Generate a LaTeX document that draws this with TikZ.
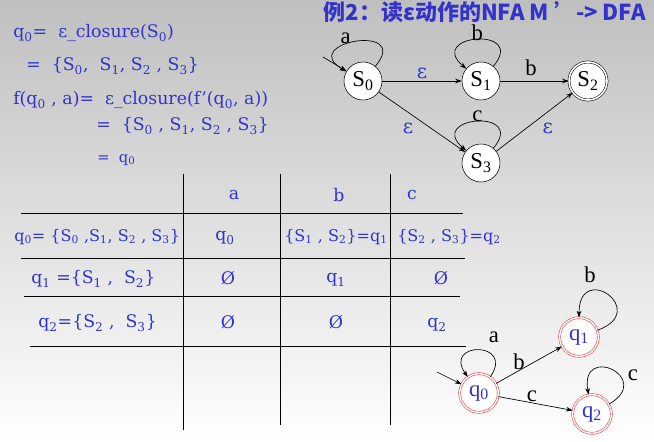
\documentclass[tikz,border=0pt]{standalone}
\usepackage{fontspec}
\setmainfont{DejaVu Serif}
\newfontfamily\statefont{Liberation Serif}
\newfontfamily\cjk{Noto Sans CJK SC}
\usetikzlibrary{arrows.meta}
\definecolor{ink}{RGB}{51,51,204}
\definecolor{ring}{RGB}{225,45,45}
\newcommand\subix[1]{\textsubscript{#1}}

\begin{document}
\begin{tikzpicture}[
	              x = 0.75pt,
	              y = 0.75pt,
	  txt/.style = {text=ink, inner sep=0pt, font=\fontsize{13}{15}\selectfont},
	  row/.style = {txt, font=\fontsize{12}{14}\selectfont},
	  nfa/.style = {circle, draw, fill=white, minimum size=28.5pt, inner sep=0pt,
	                font=\statefont\fontsize{17}{19}\selectfont},
	accept/.style = {double, double distance=1.2pt},
	  dfa/.style = {circle, draw=ring, double=white, double distance=1.1pt, fill=white,
	                minimum size=29pt, inner sep=0pt, text=ink,
	                font=\statefont\fontsize{17}{19}\selectfont},
	trans/.style = {-{Stealth[length=5pt,width=3.5pt]}, line width=0.5pt},
	  sym/.style = {inner sep=0.5pt, font=\statefont\fontsize{17}{19}\selectfont},
	  eps/.style = {inner sep=1pt, text=ink, font=\fontsize{15}{17}\selectfont}
	                ]
	% background
	\shade[top color=gray!50, bottom color=white] (0,0) rectangle (654,-442);
	\useasboundingbox (0,0) rectangle (654,-442);

	% title
	\node[text=ink, anchor=east, inner sep=0pt, font=\cjk\bfseries\fontsize{16.5}{18}\selectfont]
	    (title) at (646,-12) {例2：读ε动作的NFA M ’-> DFA};

	% closure computation
	\node[txt, anchor=west] (l1) at (13,-33) {q\subix{0}=~~ε\_closure(S\subix{0})};
	\node[txt, anchor=west] (l2) at (26,-66) {=~~\{S\subix{0},~~S\subix{1}, S\subix{2} , S\subix{3}\}};
	\node[txt, anchor=west] (l3) at (13,-100) {f(q\subix{0} , a)=~~ε\_closure(f’(q\subix{0}, a))};
	\node[txt, anchor=west] (l4) at (96,-126) {=~~\{S\subix{0} , S\subix{1}, S\subix{2} , S\subix{3}\}};
	\node[txt, anchor=west, font=\fontsize{11}{13}\selectfont] (l5) at (97,-160) {=~~q\subix{0}};

	% NFA M'
	\node[nfa] (s0) at (363,-81) {S\subix{0}};
	\node[nfa] (s1) at (481,-81) {S\subix{1}};
	\node[nfa, accept] (s2) at (588,-81) {S\subix{2}};
	\node[nfa] (s3) at (481,-163) {S\subix{3}};
	\coordinate (in0) at (323,-57);

	\draw[trans] (in0) -- (s0);
	\draw[trans] (s0) to[out=50, in=150, looseness=5] node[sym, above=-0.5pt, pos=0.6] (la) {a} (s0);
	\draw[trans] (s1) to[out=50, in=140, looseness=5] node[sym, above=-1.5pt, pos=0.5] (lb1) {b} (s1);
	\draw[trans] (s3) to[out=50, in=140, looseness=5] node[sym, above=-1pt, pos=0.5] (lc) {c} (s3);
	\draw[trans] (s0) -- node[eps, above] (e1) {ε} (s1);
	\draw[trans] (s1) -- node[sym, above=3pt, pos=0.45] (lb2) {b} (s2);
	\draw[trans] (s0) -- node[eps, below left=2pt, pos=0.45] (e2) {ε} (s3);
	\draw[trans] (s3) -- node[eps, below right=2pt, pos=0.55] (e3) {ε} (s2);

	% transition table
	\draw[line width=0.6pt] (183,-174) -- (183,-430);
	\draw[line width=0.6pt] (280,-174) -- (280,-425);
	\draw[line width=0.6pt] (390,-174) -- (390,-425);
	\draw[line width=0.6pt] (21,-213) -- (463,-213);
	\draw[line width=0.6pt] (21,-258) -- (465,-258);
	\draw[line width=0.6pt] (24,-296) -- (460,-296);
	\draw[line width=0.6pt] (30,-346) -- (466,-346);

	\node[txt] (ha) at (234,-195) {a};
	\node[txt] (hb) at (339,-195) {b};
	\node[txt] (hc) at (412,-195) {c};

	\node[row, anchor=west] (r0) at (14,-237) {q\subix{0}= \{S\subix{0} ,S\subix{1}, S\subix{2} , S\subix{3}\}};
	\node[txt] (r0a) at (225,-238) {q\subix{0}};
	\node[row, anchor=west] (r0b) at (284,-237) {\{S\subix{1} , S\subix{2}\}=q\subix{1}};
	\node[row, anchor=west] (r0c) at (397,-237) {\{S\subix{2} , S\subix{3}\}=q\subix{2}};

	\node[txt, anchor=west] (r1) at (31,-279) {q\subix{1} =\{S\subix{1} ,~~S\subix{2}\}};
	\node[txt] (r1a) at (228,-278) {Ø};
	\node[txt] (r1b) at (336,-280) {q\subix{1}};
	\node[txt] (r1c) at (441,-278) {Ø};

	\node[txt, anchor=west] (r2) at (38,-323) {q\subix{2}=\{S\subix{2} ,~~S\subix{3}\}};
	\node[txt] (r2a) at (228,-322) {Ø};
	\node[txt] (r2b) at (336,-322) {Ø};
	\node[txt] (r2c) at (437,-325) {q\subix{2}};

	% resulting DFA
	\node[dfa] (q0) at (479,-393) {q\subix{0}};
	\node[dfa] (q1) at (579,-337) {q\subix{1}};
	\node[dfa] (q2) at (592,-414) {q\subix{2}};
	\coordinate (in1) at (437,-372);

	\draw[trans] (in1) -- (q0);
	\draw[trans] (q0) to[out=55, in=125, looseness=5] (q0);
	\draw[trans] (q1) to[out=20, in=90, looseness=6.5] (q1);
	\draw[trans] (q2) to[out=30, in=100, looseness=6] (q2);
	\draw[trans] (q0) -- node[sym, above, pos=0.35] (db) {b} (q1);
	\draw[trans] (q0) -- node[sym, above, pos=0.45] (dc) {c} (q2);
	\node[sym] (da) at (494,-337) {a};
	\node[sym] (db1) at (590,-275) {b};
	\node[sym] (dc1) at (633,-375) {c};
\end{tikzpicture}
\end{document}
